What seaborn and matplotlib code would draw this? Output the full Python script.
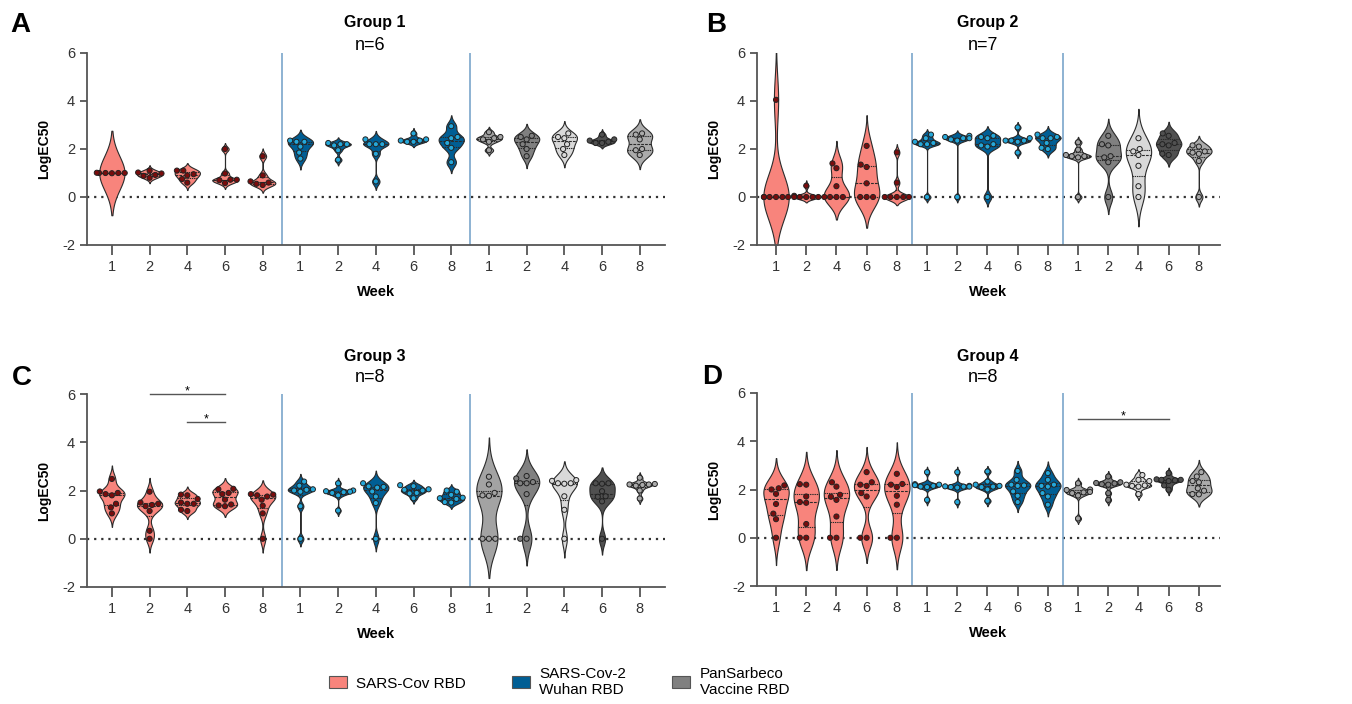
import numpy as np
import pandas as pd
import matplotlib
matplotlib.use("Agg")
import matplotlib.pyplot as plt
from matplotlib.patches import Patch
import seaborn as sns

weeks = ["1", "2", "4", "6", "8"]
antigens = ["SARS-Cov RBD", "SARS-Cov-2\nWuhan RBD", "PanSarbeco\nVaccine RBD"]

# LogEC50 per mouse, one list per week (1, 2, 4, 6, 8)
g1_sars = [[0.99, 1.0, 1.0, 1.0, 1.0, 1.01], [0.8, 1.1, 0.98, 0.92, 0.88, 1.02],
           [0.6, 0.75, 0.9, 0.95, 1.1, 1.1], [2.0, 0.98, 0.72, 0.72, 0.7, 0.58],
           [1.7, 0.9, 0.65, 0.6, 0.55, 0.5]]
g1_wuhan = [[2.35, 2.3, 2.3, 2.1, 1.85, 1.6], [2.25, 2.2, 2.2, 2.15, 1.95, 1.55],
            [2.4, 2.2, 2.2, 2.2, 1.8, 0.65], [2.65, 2.4, 2.35, 2.3, 2.3, 2.35],
            [2.95, 2.5, 2.45, 2.25, 2.05, 1.45]]
g1_pan = [[2.7, 2.5, 2.45, 2.4, 2.3, 1.95], [2.55, 2.5, 2.4, 2.2, 2.0, 1.7],
          [2.65, 2.5, 2.45, 2.2, 2.0, 1.75], [2.6, 2.4, 2.35, 2.25, 2.25, 2.3],
          [2.65, 2.6, 2.4, 2.0, 1.95, 1.75]]

g2_sars = [[4.05, 0, 0, 0, 0, 0, 0], [0.47, 0.05, 0, 0, 0, 0, 0],
           [1.4, 1.2, 0.45, 0, 0, 0, 0], [2.13, 1.35, 1.25, 0.57, 0, 0, 0],
           [1.86, 0.6, 0, 0, 0, 0, 0]]
g2_wuhan = [[2.6, 2.45, 2.3, 2.25, 2.2, 2.2, 0.0], [2.55, 2.5, 2.45, 2.45, 2.4, 2.35, 0.0],
            [2.55, 2.5, 2.45, 2.2, 2.15, 2.1, 0.0], [2.9, 2.45, 2.35, 2.35, 2.3, 2.35, 1.85],
            [2.6, 2.5, 2.45, 2.45, 2.25, 2.05, 2.0]]
g2_pan = [[2.28, 1.97, 1.75, 1.7, 1.7, 1.65, 0.0], [2.55, 2.2, 2.15, 1.7, 1.65, 1.45, 0.0],
          [2.45, 2.0, 1.9, 1.75, 1.3, 0.45, 0.0], [2.65, 2.55, 2.25, 2.2, 2.15, 1.8, 1.75],
          [2.15, 2.1, 1.9, 1.85, 1.8, 1.5, 0.0]]

g3_sars = [[2.48, 1.96, 1.9, 1.85, 1.8, 1.45, 1.3, 1.05],
           [1.95, 1.5, 1.45, 1.4, 1.35, 1.15, 0.33, 0.0],
           [1.83, 1.8, 1.65, 1.5, 1.45, 1.45, 1.2, 1.15],
           [2.07, 2.05, 1.9, 1.85, 1.62, 1.42, 1.38, 1.35],
           [1.85, 1.83, 1.8, 1.75, 1.62, 1.37, 1.05, 0.0]]
g3_wuhan = [[2.37, 2.2, 2.05, 2.03, 2.0, 1.95, 1.35, 0.0],
            [2.3, 2.0, 1.97, 1.95, 1.93, 1.9, 1.8, 1.17],
            [2.3, 2.17, 2.15, 2.12, 1.96, 1.75, 1.48, 0.0],
            [2.22, 2.18, 2.05, 2.03, 2.0, 1.9, 1.88, 1.68],
            [2.0, 1.95, 1.82, 1.7, 1.68, 1.65, 1.52, 1.5]]
g3_pan = [[2.57, 2.25, 1.9, 1.8, 1.78, 0, 0, 0],
          [2.6, 2.5, 2.35, 2.3, 2.3, 1.85, 0, 0],
          [2.43, 2.4, 2.3, 2.3, 2.28, 1.76, 1.2, 0.0],
          [2.3, 2.3, 2.28, 1.97, 1.76, 1.74, 1.55, 0.0],
          [2.53, 2.27, 2.25, 2.25, 2.23, 2.2, 2.0, 1.67]]

g4_sars = [[2.17, 2.05, 2.0, 1.82, 1.4, 1.0, 0.77, 0.0],
           [2.22, 2.2, 1.71, 1.48, 1.45, 0.57, 0.0, 0.0],
           [2.3, 2.12, 1.78, 1.7, 1.57, 0.88, 0.0, 0.0],
           [2.72, 2.3, 2.2, 2.15, 1.85, 1.71, 0.0, 0.0],
           [2.65, 2.23, 2.2, 2.1, 1.74, 1.37, 0.0, 0.0]]
g4_wuhan = [[2.72, 2.22, 2.2, 2.18, 2.15, 2.12, 2.1, 1.57],
            [2.72, 2.15, 2.13, 2.12, 2.12, 2.1, 2.08, 1.48],
            [2.75, 2.33, 2.2, 2.15, 2.12, 2.1, 2.0, 1.53],
            [2.77, 2.4, 2.2, 2.17, 2.15, 1.92, 1.74, 1.48],
            [2.68, 2.4, 2.2, 2.15, 2.12, 1.85, 1.71, 1.37]]
g4_pan = [[2.26, 2.0, 1.98, 1.9, 1.88, 1.85, 1.75, 0.8],
          [2.54, 2.3, 2.27, 2.25, 2.22, 2.2, 1.85, 1.57],
          [2.6, 2.4, 2.35, 2.2, 2.17, 2.15, 2.12, 1.81],
          [2.68, 2.42, 2.4, 2.4, 2.38, 2.35, 2.17, 1.99],
          [2.72, 2.54, 2.35, 2.3, 2.05, 1.95, 1.81, 1.8]]

sars_fill, sars_dot = "#F8847C", "#7A0C0C"
wuhan_fill, wuhan_dot = "#005E94", "#25A8DA"
pan_fills = ["#A3A3A3", "#808080", "#D9D9D9", "#505050", "#ABABAB"]

plt.rcParams["font.family"] = ["Liberation Sans", "DejaVu Sans"]


def prism_bw(kde):
    # Silverman's robust rule (min of sd and IQR/1.34) with a small floor;
    # falls back to sd when the IQR is zero and to a fixed width when all
    # values sit on one level
    x = kde.dataset[0]
    sd = x.std(ddof=1)
    q25, q75 = np.percentile(x, [25, 75])
    spread = min(sd, (q75 - q25) / 1.34)
    if spread <= 0:
        spread = sd
    h = max(0.9 * spread * kde.n ** -0.2, 0.09)
    if sd < 0.05:
        h = 0.7
    return h / sd


def draw_panel(ax, groups, vwidth, xlim, sig=()):
    cats, rows = [], []
    fill_pal, dot_pal = {}, {}
    for a, series in enumerate(groups):
        for w, vals in enumerate(series):
            key = f"{a}-{weeks[w]}"
            cats.append(key)
            if a == 0:
                fill_pal[key], dot_pal[key] = sars_fill, sars_dot
            elif a == 1:
                fill_pal[key], dot_pal[key] = wuhan_fill, wuhan_dot
            else:
                fill_pal[key] = dot_pal[key] = pan_fills[w]
            rows += [(key, v) for v in vals]
    df = pd.DataFrame(rows, columns=["cat", "val"])

    ax.axhline(0, color="#333333", ls=(0, (1, 2.2)), lw=1.6, zorder=0.5)
    sns.violinplot(data=df, x="cat", y="val", hue="cat", order=cats, hue_order=cats,
                   palette=fill_pal, legend=False, inner="quart", density_norm="width",
                   width=vwidth, cut=2.5, bw_method=prism_bw, linewidth=0.8,
                   linecolor="#2b2b2b", saturation=1, ax=ax)
    sns.swarmplot(data=df, x="cat", y="val", hue="cat", order=cats, hue_order=cats,
                  palette=dot_pal, legend=False, size=3.7, edgecolor="#222222",
                  linewidth=0.7, ax=ax, zorder=3)
    for xv in (4.5, 9.5):
        ax.axvline(xv, color="#7AA6CB", lw=1.2, zorder=0.6)

    ax.set_xlim(*xlim)
    ax.set_ylim(-2, 6)
    ax.set_yticks([-2, 0, 2, 4, 6])
    ax.set_xticks(range(15))
    ax.set_xticklabels(weeks * 3, fontsize=10.5)
    ax.set_yticklabels(["-2", "0", "2", "4", "6"], fontsize=10.5)
    sns.despine(ax=ax)
    for s in ("left", "bottom"):
        ax.spines[s].set_color("#555555")
        ax.spines[s].set_linewidth(1.3)
    ax.tick_params(axis="y", colors="#555555", labelcolor="#333333", width=1.3, length=5)
    ax.tick_params(axis="x", colors="#555555", labelcolor="#333333", width=1.3, length=7)
    ax.set_ylabel("LogEC50", fontsize=10, fontweight="bold", labelpad=8)
    ax.set_xlabel("Week", fontsize=10.5, fontweight="bold", labelpad=8)

    for x0, x1, y in sig:
        ax.plot([x0, x1], [y, y], color="#555555", lw=1, clip_on=False)
        ax.text((x0 + x1) / 2, y + 0.12, "*", ha="center", va="center",
                fontsize=9, clip_on=False)


fig = plt.figure(figsize=(13.52, 7.04), dpi=100)
W, H = 1352, 704


def add_axes(l, t, r, b):
    return fig.add_axes([l / W, 1 - b / H, (r - l) / W, (b - t) / H])


axA = add_axes(87, 53, 665, 245)
axB = add_axes(757, 53, 1220, 245)
axC = add_axes(87, 394, 665, 587)
axD = add_axes(757, 393, 1220, 586)

draw_panel(axA, [g1_sars, g1_wuhan, g1_pan], 0.67, (-0.66, 14.67))
draw_panel(axB, [g2_sars, g2_wuhan, g2_pan], 0.84, (-0.63, 14.7))
draw_panel(axC, [g3_sars, g3_wuhan, g3_pan], 0.67, (-0.66, 14.67),
           sig=[(1, 3, 6.0), (2, 3, 4.83)])
draw_panel(axD, [g4_sars, g4_wuhan, g4_pan], 0.84, (-0.63, 14.7),
           sig=[(10, 13, 4.92)])

# panel titles, letters
titles = [("A", 20, 25, "Group 1", "n=6", 375, 22, 46),
          ("B", 716, 25, "Group 2", "n=7", 988, 22, 46),
          ("C", 22, 378, "Group 3", "n=8", 375, 357, 377),
          ("D", 712, 377, "Group 4", "n=8", 988, 357, 377)]
for letter, lx, ly, grp, n, cx, gy, ny in titles:
    fig.text(lx / W, 1 - ly / H, letter, fontsize=20, fontweight="bold",
             ha="center", va="center")
    fig.text(cx / W, 1 - gy / H, grp, fontsize=11.5, fontweight="bold",
             ha="center", va="center")
    fig.text((cx - 5) / W, 1 - ny / H, n, fontsize=13, ha="center", va="center")

handles = [Patch(facecolor=sars_fill, edgecolor="#555555", lw=0.8),
           Patch(facecolor=wuhan_fill, edgecolor="#555555", lw=0.8),
           Patch(facecolor="#808080", edgecolor="#555555", lw=0.8)]
fig.legend(handles, antigens, loc="center", bbox_to_anchor=(559 / W, 1 - 682 / H),
           ncol=3, frameon=False, prop={"size": 11},
           handlelength=1.2, handleheight=0.8, handletextpad=0.6, columnspacing=3.0)

fig.savefig("out.png", dpi=100)
